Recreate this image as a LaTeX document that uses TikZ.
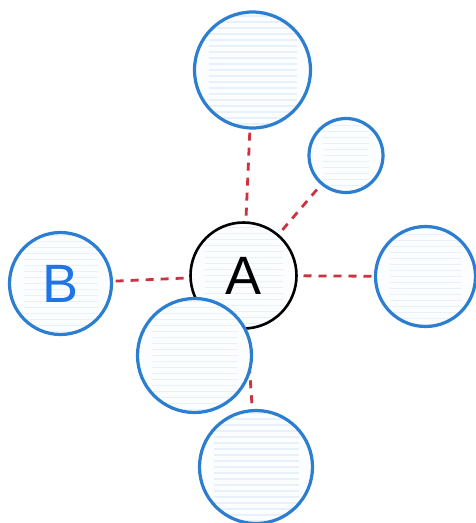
\documentclass[tikz,border=0pt]{standalone}
\usepackage{fontspec}
\setmainfont{Liberation Sans}
\definecolor{bubblue}{HTML}{2C7FD0}
\definecolor{bubfill}{HTML}{FBFDFF}
\definecolor{hatch}{HTML}{E8F0F9}
\definecolor{linkred}{HTML}{CC3340}
\definecolor{letterblue}{HTML}{1F74E6}
\tikzset{
  bub/.style={circle, draw=bubblue, line width=3.2pt, inner sep=0pt,
    minimum size=#1, fill=bubfill,
    path picture={\foreach \i in {-10,...,10}
      \draw[hatch, line width=1.3pt]
        ([yshift=\i*6pt, xshift=14pt]path picture bounding box.west) --
        ([yshift=\i*6pt, xshift=-14pt]path picture bounding box.east);}},
  center/.style={bub=#1, draw=black, line width=2.6pt},
  link/.style={draw=linkred, line width=2.8pt, dash pattern=on 8pt off 7pt},
  lbl/.style={font=\fontsize{54}{54}\selectfont}
}
\begin{document}
\begin{tikzpicture}[x=1pt,y=-1pt]
\useasboundingbox (0,0) rectangle (476,523);
\fill[white] (0,0) rectangle (476,523);
% coordinates of node centers
\coordinate (ct) at (252.5,70);
\coordinate (cs) at (346,155.5);
\coordinate (cr) at (425.5,276.5);
\coordinate (cb) at (60.5,283.5);
\coordinate (ca) at (243.5,275.5);
\coordinate (cl) at (194.5,355.5);
\coordinate (cd) at (256,467);
% connectors (drawn first, beneath the circles)
\path[link] (ca) -- (ct);
\path[link] (ca) -- (cs);
\path[link] (ca) -- (cr);
\path[link] (ca) -- (cb);
\path[link] (ca) -- (cd);
% circles
\node[bub=116pt] (top) at (ct) {};
\node[bub=74pt] (small) at (cs) {};
\node[bub=100pt] (right) at (cr) {};
\node[bub=102pt, lbl, text=letterblue] (B) at (cb) {B};
\node[bub=113pt] (bottom) at (cd) {};
\node[center=106pt, lbl] (A) at (ca) {A};
\node[bub=114pt] (lower) at (cl) {};
\end{tikzpicture}
\end{document}
